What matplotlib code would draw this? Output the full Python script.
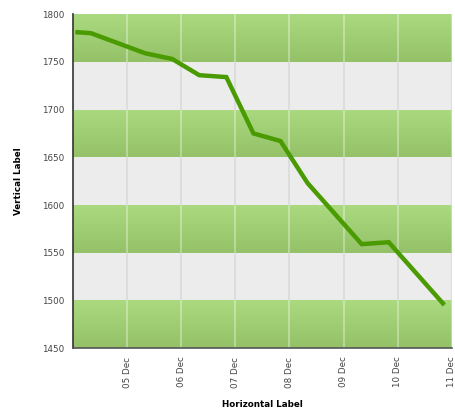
import numpy as np
import matplotlib
matplotlib.use("Agg")
import matplotlib.pyplot as plt
import matplotlib.dates as mdates
from matplotlib.colors import LinearSegmentedColormap
from datetime import datetime, timedelta

# data (hours after 04 Dec 00:00)
hours = [2, 8, 32, 44, 56, 68, 80, 92, 104, 128, 140, 164]
values = [1781, 1780, 1759, 1753, 1736, 1734, 1675, 1667, 1623, 1559, 1561, 1497]
tick_days = [5, 6, 7, 8, 9, 10, 11]

start = datetime(2012, 12, 4)
times = [start + timedelta(hours=h) for h in hours]

LINE = "#4a9a02"
GRAY_BAND = "#ececec"
green_cm = LinearSegmentedColormap.from_list("g", ["#95c268", "#aad97f"])

fig = plt.figure(figsize=(4.56, 4.15), dpi=100)
ax = fig.add_axes([0.160, 0.161, 0.831, 0.805])

x0 = mdates.date2num(start)
x1 = mdates.date2num(start + timedelta(days=7))
grid_x = [mdates.date2num(datetime(2012, 12, d)) for d in tick_days]
grad = np.linspace(0, 1, 50).reshape(-1, 1)
for lo in range(1450, 1800, 50):
    if (lo - 1450) % 100 == 0:
        ax.imshow(grad, extent=[x0, x1, lo, lo + 50], cmap=green_cm,
                  aspect="auto", origin="lower", zorder=0)
        ax.vlines(grid_x, lo, lo + 50, color="white", alpha=0.4, lw=1.2, zorder=1)
    else:
        ax.axhspan(lo, lo + 50, color=GRAY_BAND, zorder=0, lw=0)
        ax.vlines(grid_x, lo, lo + 50, color="#dadada", lw=1.2, zorder=1)

ax.plot(times, values, color=LINE, lw=3.2, solid_joinstyle="miter", zorder=3)

ax.set_xlim(x0, x1)
ax.set_ylim(1450, 1800)
ax.set_yticks(range(1450, 1801, 50))
ax.set_xticks(grid_x)
ax.xaxis.set_major_formatter(mdates.DateFormatter("%d %b"))
ax.tick_params(axis="x", labelrotation=90, labelsize=6.3, colors="#444444", length=0, pad=6)
ax.tick_params(axis="y", labelsize=6.3, colors="#444444", length=0, pad=6)

for s in ["top", "right"]:
    ax.spines[s].set_visible(False)
ax.spines["left"].set_color("#333333")
ax.spines["bottom"].set_color("#555555")
ax.spines["left"].set_linewidth(1.2)
ax.spines["bottom"].set_linewidth(1.2)

ax.set_xlabel("Horizontal Label", fontsize=6.3, fontweight="bold", labelpad=9)
ax.set_ylabel("Vertical Label", fontsize=6.3, fontweight="bold", labelpad=14)

fig.savefig("out.png", dpi=100)
